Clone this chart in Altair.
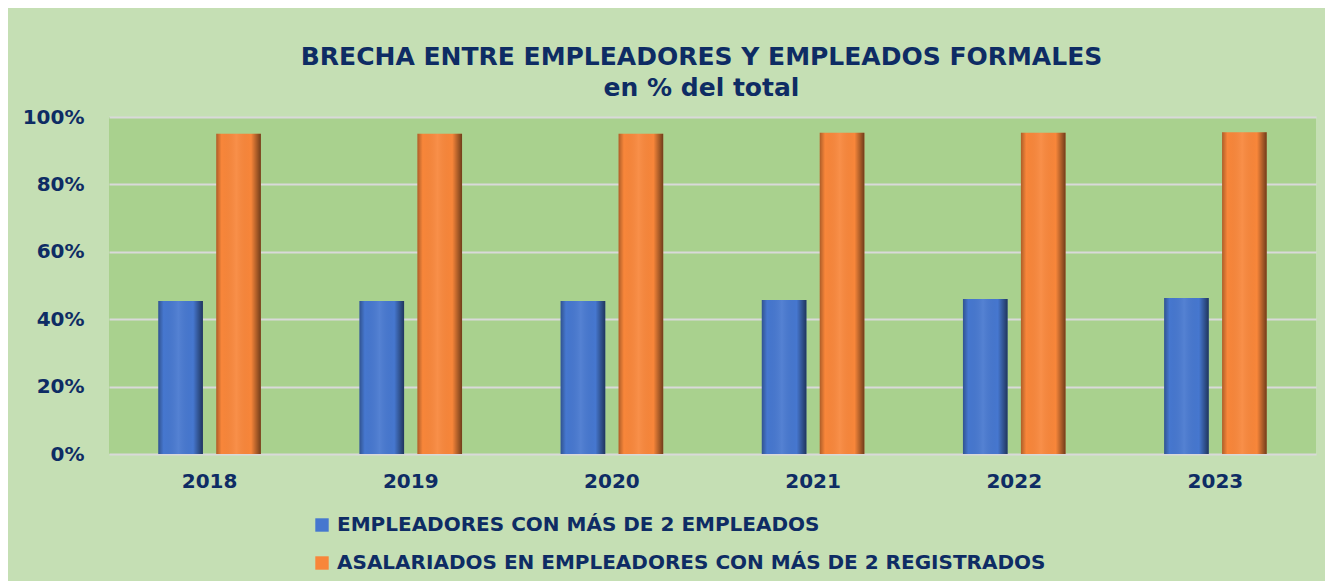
import altair as alt
import pandas as pd

years = ["2018", "2019", "2020", "2021", "2022", "2023"]
series = ["EMPLEADORES CON MÁS DE 2 EMPLEADOS",
          "ASALARIADOS EN EMPLEADORES CON MÁS DE 2 REGISTRADOS"]
empleadores = [0.454, 0.454, 0.454, 0.457, 0.460, 0.463]
asalariados = [0.950, 0.950, 0.950, 0.953, 0.953, 0.955]
colors = ["#4677CF", "#F8863A"]

rows = []
for i, y in enumerate(years):
    rows.append({"year": y, "serie": series[0], "value": empleadores[i]})
    rows.append({"year": y, "serie": series[1], "value": asalariados[i]})
df = pd.DataFrame(rows)

NAVY = "#0E2C64"
FONT = "DejaVu Sans"

base = alt.Chart(df).encode(
    x=alt.X("year:N", sort=years,
            scale=alt.Scale(paddingInner=0.49, paddingOuter=0.245),
            axis=alt.Axis(title=None, labelAngle=0, ticks=False, domain=False,
                          labelFont=FONT, labelFontSize=20, labelFontWeight="bold",
                          labelColor=NAVY, labelPadding=17)),
    xOffset=alt.XOffset("serie:N", sort=series,
                        scale=alt.Scale(paddingInner=0.23, paddingOuter=0)),
    y=alt.Y("value:Q", scale=alt.Scale(domain=[0, 1]),
            axis=alt.Axis(title=None, format=".0%", values=[0, 0.2, 0.4, 0.6, 0.8, 1.0],
                          ticks=False, domain=False, grid=True, gridColor="#D9D9D9",
                          gridWidth=2, labelFont=FONT, labelFontSize=20,
                          labelFontWeight="bold", labelColor=NAVY, labelPadding=25)),
)

bars = base.mark_bar().encode(
    color=alt.Color("serie:N", sort=series,
                    scale=alt.Scale(domain=series, range=colors),
                    legend=alt.Legend(title=None, orient="none", legendX=203, legendY=398,
                                      direction="vertical", symbolType="square",
                                      symbolSize=180, symbolStrokeWidth=0,
                                      labelFont=FONT, labelFontSize=20,
                                      labelFontWeight="bold", labelColor=NAVY,
                                      labelLimit=1000, rowPadding=18, labelOffset=5,
                                      padding=0))
)

shade = base.mark_bar(
    fill=alt.Gradient(
        gradient="linear", x1=0, x2=1, y1=0, y2=0,
        stops=[
            alt.GradientStop(color="rgba(0,0,0,0.30)", offset=0),
            alt.GradientStop(color="rgba(0,0,0,0.0)", offset=0.12),
            alt.GradientStop(color="rgba(255,255,255,0.08)", offset=0.45),
            alt.GradientStop(color="rgba(0,0,0,0.0)", offset=0.78),
            alt.GradientStop(color="rgba(0,0,0,0.55)", offset=1),
        ],
    )
)

chart = alt.layer(bars, shade).properties(
    width=1207, height=337,
    padding={"left": 101, "top": 109, "right": 9, "bottom": 130},
    autosize=alt.AutoSizeParams(type="none"),
    background="#C5DFB4",
    title=alt.TitleParams(
        text="BRECHA ENTRE EMPLEADORES Y EMPLEADOS FORMALES",
        subtitle="en % del total",
        font=FONT, subtitleFont=FONT, fontSize=25, subtitleFontSize=25,
        fontWeight="bold", subtitleFontWeight="bold",
        color=NAVY, subtitleColor=NAVY, anchor="middle", dx=-11,
        offset=6, subtitlePadding=6,
    ),
).configure_view(fill="#A9D18E", stroke=None)

chart.save("out.html", embed_options={"renderer": "svg", "actions": False})
